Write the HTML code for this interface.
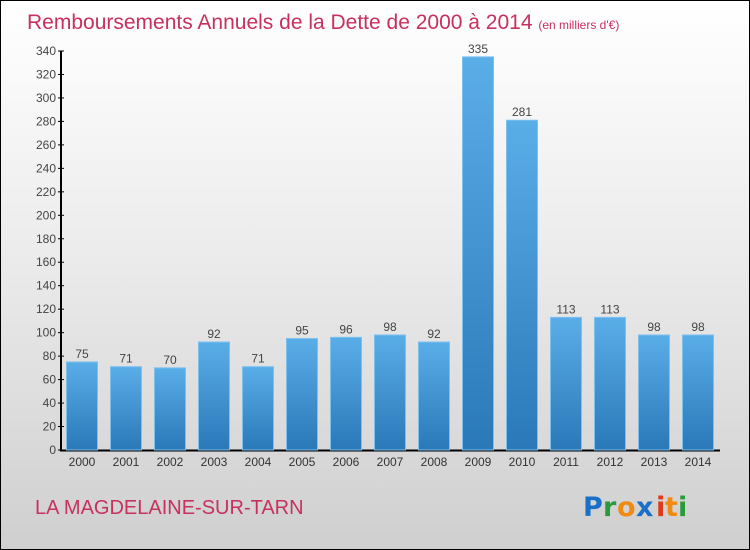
<!DOCTYPE html>
<html><head><meta charset="utf-8"><style>
html,body{margin:0;padding:0}
body{width:750px;height:550px;overflow:hidden;font-family:"Liberation Sans",sans-serif}
#wrap{position:absolute;left:0;top:0;width:748px;height:548px;border:1px solid #000;background:linear-gradient(#ffffff 0%,#ececec 45%,#cfcfcf 100%)}
</style></head><body>
<div id="wrap">
<svg id="chart" width="750" height="550" style="position:absolute;left:-1px;top:-1px">
<defs><linearGradient id="bg" x1="0" y1="0" x2="0" y2="1"><stop offset="0" stop-color="#5aaee8"/><stop offset="1" stop-color="#2a78b8"/></linearGradient></defs>
<text x="27" y="29" font-size="21" fill="#c8305e">Remboursements Annuels de la Dette de 2000 à 2014 <tspan font-size="12">  (en milliers d'€)</tspan></text>
<g id="axes"></g><g id="bars"></g>
<text x="35" y="514" font-size="20" fill="#c8305e">LA MAGDELAINE-SUR-TARN</text>
<g font-size="27" font-family="'DejaVu Sans',sans-serif" font-weight="bold">
<text x="583" y="516" fill="#1a6fc8">P</text><text x="603" y="516" fill="#2a9a3a">r</text><text x="617" y="516" fill="#f08a10">o</text><text x="636" y="516" fill="#1a6fc8">x</text><text x="656" y="516" fill="#e03a1a">i</text><text x="665" y="516" fill="#f08a10">t</text><text x="678" y="516" fill="#2a9a3a">i</text></g>
</svg></div>
<script>
const years=["2000","2001","2002","2003","2004","2005","2006","2007","2008","2009","2010","2011","2012","2013","2014"];
const values=[75,71,70,92,71,95,96,98,92,335,281,113,113,98,98];
const ticks=[0,20,40,60,80,100,120,140,160,180,200,220,240,260,280,300,320,340];
const NS="http://www.w3.org/2000/svg";
const y0=450,ppu=399/340,x0=82,step=44,bw=31;
const yS=v=>y0-v*ppu, xS=i=>x0+i*step;
const ax=document.getElementById('axes'),bars=document.getElementById('bars');
function mk(t,a,p){const e=document.createElementNS(NS,t);for(const k in a)e.setAttribute(k,a[k]);p.appendChild(e);return e;}
let l=mk('line',{x1:61,y1:yS(340),x2:61,y2:y0+1,stroke:'#000','stroke-width':2},ax);


l=mk('line',{x1:60,y1:y0+0.5,x2:720,y2:y0+0.5,stroke:'#000','stroke-width':2},ax);


ticks.forEach(t=>{const y=yS(t);
 const tk=mk('line',{x1:58,y1:y,x2:64,y2:y,stroke:'#000'},ax);
 
 
 const tx=mk('text',{x:56,y:y+4,'font-size':12,fill:'#444','text-anchor':'end'},ax);tx.textContent=t;
 
 });
values.forEach((v,i)=>{const cx=xS(i);
 const r=mk('rect',{x:cx-bw/2,y:yS(v),width:bw,height:y0-yS(v),fill:'url(#bg)',stroke:'#7cc0f0','stroke-width':1},bars);
 
 
 const vt=mk('text',{x:cx,y:yS(v)-4,'font-size':12,fill:'#444','text-anchor':'middle'},bars);vt.textContent=v;
 
 
 const xt=mk('text',{x:cx,y:466,'font-size':12,fill:'#333','text-anchor':'middle'},bars);xt.textContent=years[i];
 
 });
</script>
</body></html>
